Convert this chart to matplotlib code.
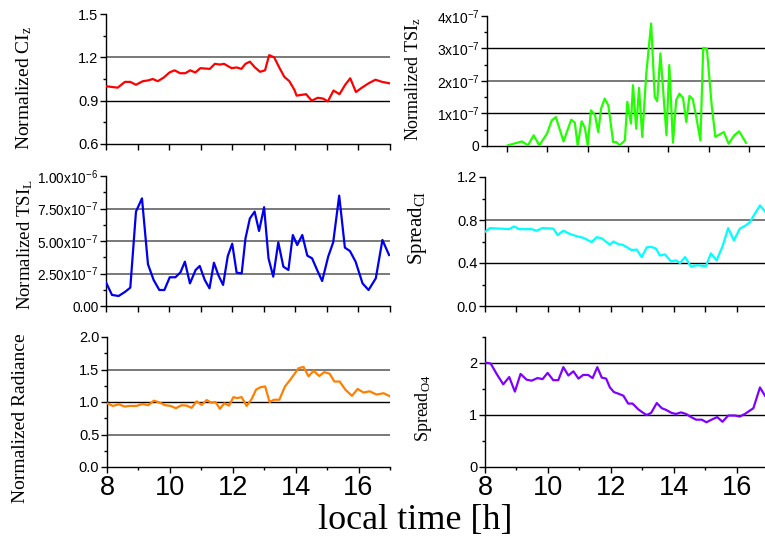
import matplotlib
matplotlib.use("Agg")
import matplotlib.pyplot as plt
import numpy as np
from matplotlib.ticker import MultipleLocator, FuncFormatter

# ---------------- data ----------------
ci_t = [8.00, 8.37, 8.60, 8.77, 8.95, 9.17, 9.33, 9.48, 9.64, 9.83, 10.01, 10.17, 10.35, 10.51,
        10.67, 10.83, 10.99, 11.29, 11.45, 11.61, 11.74, 11.98, 12.14, 12.29, 12.42, 12.56,
        12.72, 12.88, 13.04, 13.17, 13.33, 13.49, 13.65, 13.81, 13.97, 14.04, 14.34, 14.52,
        14.71, 14.87, 15.03, 15.21, 15.40, 15.58, 15.74, 15.92, 16.11, 16.32, 16.54, 16.75, 16.99]
ci_v = [1.00, 0.99, 1.03, 1.03, 1.01, 1.035, 1.04, 1.05, 1.035, 1.06, 1.095, 1.11, 1.09, 1.09,
        1.11, 1.095, 1.125, 1.12, 1.155, 1.15, 1.155, 1.125, 1.13, 1.12, 1.155, 1.17,
        1.13, 1.10, 1.11, 1.215, 1.20, 1.13, 1.065, 1.035, 0.975, 0.935, 0.945, 0.90,
        0.92, 0.915, 0.895, 0.97, 0.945, 1.01, 1.055, 0.96, 0.99, 1.02, 1.045, 1.03, 1.02]

tsiz_t = [8.02, 8.37, 8.52, 8.66, 8.80, 8.99, 9.11, 9.21, 9.40, 9.59, 9.68, 9.75, 9.85, 9.93,
          10.00, 10.08, 10.18, 10.26, 10.33, 10.42, 10.51, 10.63, 10.71, 10.79, 10.92, 10.98,
          11.07, 11.12, 11.20, 11.27, 11.35, 11.45, 11.57, 11.66, 11.72, 11.80, 11.95, 12.02,
          12.11, 12.19, 12.27, 12.36, 12.44, 12.52, 12.60, 12.68, 12.79, 12.86, 12.95, 13.07,
          13.16, 13.37, 13.49, 13.63, 13.75, 13.92]
tsiz_v = [0.02, 0.14, 0.02, 0.33, 0.02, 0.38, 0.79, 0.89, 0.14, 0.81, 0.72, 0.02, 0.76, 0.55,
          0.02, 1.10, 0.95, 0.43, 1.15, 1.46, 1.25, 0.12, 0.12, 0.02, 0.17, 1.36,
          0.69, 1.87, 0.53, 1.79, 0.28, 2.23, 3.77, 1.51, 1.38, 2.85, 0.33, 2.49,
          0.10, 1.41, 1.61, 1.48, 0.74, 1.54, 1.44, 0.95, 0.17, 3.02, 3.00, 1.25,
          0.28, 0.43, 0.07, 0.33, 0.45, 0.10]  # x 1e-7

tsil_t = [8.00, 8.19, 8.40, 8.61, 8.77, 8.95, 9.14, 9.33, 9.51, 9.69, 9.85, 10.02, 10.20, 10.36,
          10.50, 10.66, 10.84, 10.97, 11.13, 11.28, 11.42, 11.56, 11.71, 11.86, 12.00, 12.14,
          12.30, 12.42, 12.56, 12.71, 12.85, 13.01, 13.15, 13.30, 13.46, 13.62, 13.78, 13.92,
          14.06, 14.22, 14.38, 14.53, 14.69, 14.85, 15.04, 15.20, 15.39, 15.57, 15.73, 15.91,
          16.13, 16.32, 16.55, 16.76, 16.97]
tsil_v = [1.82, 0.85, 0.77, 1.10, 1.41, 7.26, 8.28, 3.21, 2.00, 1.23, 1.23, 2.21, 2.21, 2.59,
          3.41, 1.74, 2.77, 3.08, 2.00, 1.36, 3.33, 2.38, 1.62, 3.85, 4.79, 2.56,
          2.51, 5.20, 6.74, 7.26, 5.77, 7.60, 3.67, 2.26, 4.90, 3.03, 2.77, 5.46,
          4.69, 5.46, 3.87, 3.67, 2.77, 1.92, 3.79, 4.90, 8.49, 4.49, 4.23, 3.41,
          1.74, 1.23, 2.13, 5.08, 3.92]  # x 1e-7

spci_t = [8.00, 8.16, 8.48, 8.77, 8.92, 9.09, 9.48, 9.64, 9.83, 10.17, 10.31, 10.49, 10.70, 10.91,
          11.12, 11.39, 11.55, 11.71, 11.97, 12.08, 12.24, 12.37, 12.52, 12.66, 12.82, 12.98,
          13.14, 13.28, 13.43, 13.56, 13.72, 13.91, 14.07, 14.20, 14.36, 14.55, 14.73, 15.02,
          15.18, 15.36, 15.55, 15.73, 15.91, 16.10, 16.29, 16.42, 16.58, 16.74, 16.90]
spci_v = [0.69, 0.725, 0.72, 0.715, 0.74, 0.715, 0.715, 0.70, 0.725, 0.72, 0.66, 0.70, 0.67, 0.65,
          0.635, 0.595, 0.64, 0.63, 0.57, 0.60, 0.575, 0.57, 0.545, 0.52, 0.525, 0.455,
          0.545, 0.55, 0.535, 0.47, 0.48, 0.415, 0.425, 0.40, 0.455, 0.365, 0.38, 0.37,
          0.49, 0.425, 0.555, 0.725, 0.61, 0.72, 0.75, 0.78, 0.86, 0.935, 0.88]

rad_t = [8.00, 8.19, 8.38, 8.56, 8.72, 8.94, 9.13, 9.31, 9.49, 9.68, 9.86, 10.02, 10.19, 10.37,
         10.53, 10.69, 10.85, 11.01, 11.17, 11.31, 11.45, 11.59, 11.73, 11.88, 12.02, 12.14,
         12.28, 12.44, 12.60, 12.74, 12.87, 13.03, 13.17, 13.31, 13.48, 13.66, 13.80, 13.93,
         14.09, 14.25, 14.41, 14.57, 14.75, 14.91, 15.08, 15.23, 15.40, 15.58, 15.79, 15.97,
         16.16, 16.35, 16.57, 16.80, 17.01]
rad_v = [0.98, 0.94, 0.965, 0.93, 0.94, 0.94, 0.97, 0.95, 1.02, 0.99, 0.95, 0.94, 0.905, 0.95,
         0.945, 0.91, 1.01, 0.955, 1.03, 0.99, 1.00, 0.895, 0.98, 0.945, 1.075, 1.06,
         1.075, 0.94, 1.045, 1.19, 1.225, 1.24, 1.00, 1.035, 1.035, 1.24, 1.325, 1.41,
         1.52, 1.54, 1.395, 1.48, 1.40, 1.46, 1.435, 1.315, 1.315, 1.19, 1.095, 1.20,
         1.145, 1.165, 1.115, 1.135, 1.085]

spo4_t = [8.00, 8.18, 8.37, 8.58, 8.77, 8.95, 9.13, 9.32, 9.48, 9.67, 9.83, 9.99, 10.17, 10.33,
          10.49, 10.65, 10.81, 10.97, 11.12, 11.28, 11.42, 11.57, 11.71, 11.85, 11.97, 12.10,
          12.24, 12.40, 12.55, 12.69, 12.87, 13.03, 13.14, 13.28, 13.46, 13.62, 13.75, 13.93,
          14.07, 14.23, 14.39, 14.55, 14.71, 14.89, 15.04, 15.20, 15.38, 15.55, 15.73, 15.94,
          16.10, 16.26, 16.53, 16.74, 16.90]
spo4_v = [2.01, 1.99, 1.79, 1.59, 1.73, 1.45, 1.79, 1.68, 1.66, 1.71, 1.69, 1.81, 1.67, 1.67,
          1.92, 1.76, 1.84, 1.70, 1.77, 1.77, 1.71, 1.92, 1.72, 1.70, 1.53, 1.44,
          1.41, 1.37, 1.22, 1.22, 1.11, 1.04, 1.00, 1.04, 1.23, 1.13, 1.10, 1.04,
          1.02, 1.05, 1.02, 0.96, 0.91, 0.91, 0.86, 0.91, 0.96, 0.87, 0.99, 0.99,
          0.97, 1.02, 1.13, 1.53, 1.37]

xticks_bottom = [8, 10, 12, 14, 16]
xlabel = "local time [h]"

# ---------------- figure ----------------
W, H = 765, 544
fig = plt.figure(figsize=(W / 100, H / 100), dpi=100)

SANS = "Liberation Sans"
SERIF = "Liberation Serif"


def add_ax(x0, x1, ytop, ybot):
    return fig.add_axes([x0 / W, 1 - ybot / H, (x1 - x0) / W, (ybot - ytop) / H])


def sci_fmt(dec):
    def f(v, pos):
        if abs(v) < 1e-15:
            return "0" if dec == 0 else "0." + "0" * dec
        e = int(np.floor(np.log10(abs(v))))
        m = v / 10 ** e
        ms = ("%d" % round(m)) if dec == 0 else ("%.*f" % (dec, m))
        return ms + r"x10$\mathregular{^{%d}}$" % e
    return FuncFormatter(f)


def style(ax, ylim, major, minor, gridlines, xlim=(8, 17), xlabels=True,
          xmajor=2, xminor=1, ylab_size=10.5):
    ax.set_xlim(*xlim)
    ax.set_ylim(*ylim)
    for s in ("top", "right"):
        ax.spines[s].set_visible(False)
    for s in ("left", "bottom"):
        ax.spines[s].set_linewidth(1.0)
    ax.yaxis.set_major_locator(MultipleLocator(major))
    ax.yaxis.set_minor_locator(MultipleLocator(minor))
    ax.xaxis.set_major_locator(MultipleLocator(xmajor))
    ax.xaxis.set_minor_locator(MultipleLocator(xminor))
    ax.tick_params(axis="both", which="major", direction="out", length=4, width=1.0)
    ax.tick_params(axis="both", which="minor", direction="out", length=2.5, width=1.0)
    ax.tick_params(axis="y", labelsize=ylab_size, pad=1.5)
    for lab in ax.get_yticklabels():
        lab.set_family(SANS)
    if xlabels:
        ax.tick_params(axis="x", labelsize=19.5, pad=2)
        ax.set_xticks(xticks_bottom)
        ax.set_xticklabels([str(v) for v in xticks_bottom], family=SANS)
    else:
        ax.tick_params(axis="x", labelbottom=False)
    for val, col, lw in gridlines:
        ax.axhline(val, color=col, lw=lw, zorder=1)
    ax.set_facecolor("none")


GRAY = "#6e6e6e"
BLK = "#000000"

# top-left: CI_z
ax1 = add_ax(106, 390, 14, 144)
ax1.plot(ci_t, ci_v, color="#ff0000", lw=1.6, zorder=3)
style(ax1, (0.6, 1.5), 0.3, 0.15, [(1.2, GRAY, 1.3), (0.9, BLK, 1.0)], xlabels=False, xmajor=1)
ax1.yaxis.set_major_formatter(FuncFormatter(lambda v, p: "%.1f" % v))

# top-right: TSI_z
ax2 = add_ax(487, 765, 16, 146)
ax2.plot(tsiz_t, np.array(tsiz_v) * 1e-7, color="#22ff00", lw=1.6, zorder=3)
style(ax2, (0, 4e-7), 1e-7, 0.5e-7, [(3e-7, BLK, 1.0), (2e-7, GRAY, 1.3), (1e-7, BLK, 1.0)],
      xlim=(7.505, 14.39), xlabels=False, xmajor=1, xminor=1, ylab_size=10)
ax2.yaxis.set_major_formatter(sci_fmt(0))

# middle-left: TSI_L
ax3 = add_ax(106, 390, 176, 306)
ax3.plot(tsil_t, np.array(tsil_v) * 1e-7, color="#0000ee", lw=1.6, zorder=3)
style(ax3, (0, 1e-6), 2.5e-7, 1.25e-7,
      [(7.5e-7, GRAY, 1.3), (5e-7, GRAY, 1.3), (2.5e-7, GRAY, 1.3)], xlabels=False, xmajor=1,
      ylab_size=9.8)
ax3.yaxis.set_major_formatter(sci_fmt(2))

# middle-right: Spread_CI
ax4 = add_ax(485, 765, 177, 306)
ax4.plot(spci_t, spci_v, color="#00ffff", lw=1.6, zorder=3)
style(ax4, (0, 1.2), 0.4, 0.2, [(0.8, GRAY, 1.3), (0.4, BLK, 1.0)], xlim=(8, 16.9),
      xlabels=False, xmajor=1)
ax4.yaxis.set_major_formatter(FuncFormatter(lambda v, p: "%.1f" % v))

# bottom-left: Radiance
ax5 = add_ax(107, 390, 337, 467)
ax5.plot(rad_t, rad_v, color="#ff8000", lw=1.6, zorder=3)
style(ax5, (0, 2.0), 0.5, 0.25, [(1.5, GRAY, 1.3), (1.0, BLK, 1.0), (0.5, GRAY, 1.3)])
ax5.yaxis.set_major_formatter(FuncFormatter(lambda v, p: "%.1f" % v))

# bottom-right: Spread_O4
ax6 = add_ax(485, 765, 337, 467)
ax6.plot(spo4_t, spo4_v, color="#8000ff", lw=1.6, zorder=3)
style(ax6, (0, 2.5), 1, 0.5, [(2, BLK, 1.0), (1, BLK, 1.0)], xlim=(8, 16.9))
ax6.yaxis.set_major_formatter(FuncFormatter(lambda v, p: "%d" % v))

# y labels
def ylab(x, y, s, size):
    fig.text(x / W, 1 - y / H, s, rotation=90, ha="center", va="center",
             family=SERIF, fontsize=size)

ylab(24, 88, r"Normalized CI$\mathregular{_z}$", 14)
ylab(413, 79, r"Normalized TSI$\mathregular{_z}$", 13)
ylab(25, 245, r"Normalized TSI$\mathregular{_L}$", 13.5)
ylab(418, 228, r"Spread$\mathregular{_{CI}}$", 15)
ylab(21, 418, r"Normalized Radiance", 14)
ylab(423, 408, r"Spread$\mathregular{_{O4}}$", 13)

fig.text(415 / W, 1 - 520 / H, xlabel, ha="center", va="center", family=SERIF, fontsize=26)

fig.savefig("out.png", dpi=100)
